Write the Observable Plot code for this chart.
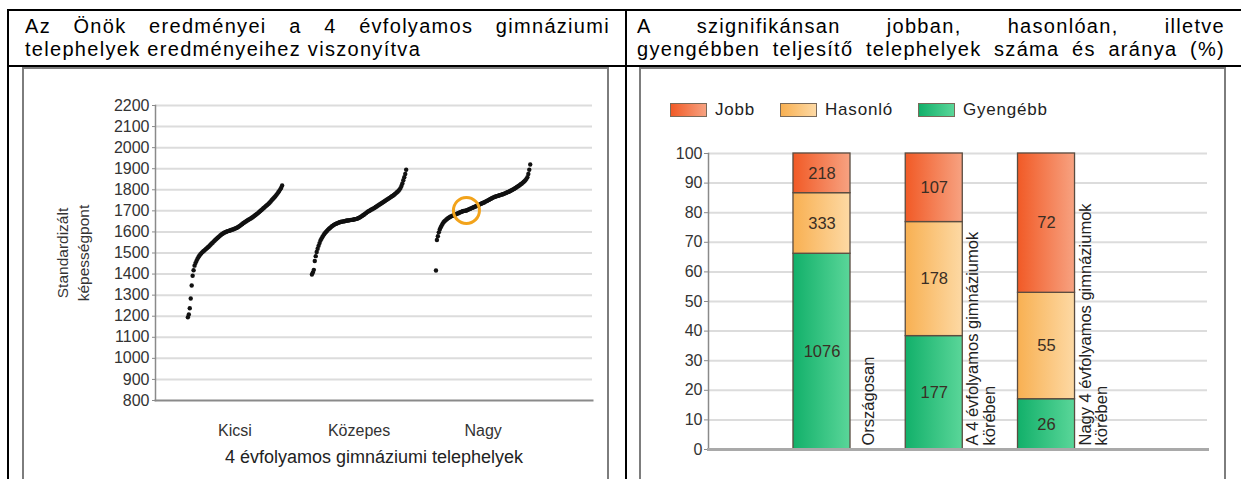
<!DOCTYPE html>
<html>
<head>
<meta charset="utf-8">
<script src="https://cdn.jsdelivr.net/npm/d3@7"></script>
<script src="https://cdn.jsdelivr.net/npm/@observablehq/plot@0.6"></script>
<style>
  html, body { margin: 0; padding: 0; background: #fff; }
  body { width: 1241px; height: 479px; position: relative; overflow: hidden; font-family: "Liberation Sans", Arial, sans-serif; }
  .ln { position: absolute; background: #000; }
  .hdr { position: absolute; font-size: 20px; line-height: 22.5px; color: #000; letter-spacing: 1.3px; }
  .hdr div { text-align: justify; }
  .just { text-align-last: justify; }
  .box { position: absolute; top: 67px; width: 587px; height: 430px; box-sizing: border-box; border: 2px solid #7d7d7d; background: #fff; overflow: hidden; }
  .box svg { display: block; }
  .legend { height: 60px; position: relative; }
  .legend .item { position: absolute; top: 33px; display: flex; align-items: center; font-size: 17px; letter-spacing: 0.8px; color: #222; height: 15px; }
  .legend .sw { width: 37px; height: 14px; border: 1px solid #7a6a5a; margin-right: 8px; box-sizing: border-box; }
</style>
</head>
<body>
<div class="ln" style="left:7px;top:9px;width:1234px;height:2px"></div>
<div class="ln" style="left:7px;top:9px;width:2px;height:470px"></div>
<div class="ln" style="left:7px;top:65px;width:1234px;height:2px"></div>
<div class="ln" style="left:625px;top:9px;width:2px;height:470px"></div>

<div class="hdr" id="hdrL" style="left:25px;top:15px;width:585px"></div>
<div class="hdr" id="hdrR" style="left:637px;top:15px;width:588px"></div>

<div class="box" id="boxL" style="left:22px"></div>
<div class="box" id="boxR" style="left:639px"><div class="legend" id="legend"></div></div>

<script>
// ---------- Header texts ----------
const headerLeft = ["Az Önök eredményei a 4 évfolyamos gimnáziumi", "telephelyek eredményeihez viszonyítva"];
const headerRight = ["A szignifikánsan jobban, hasonlóan, illetve", "gyengébben teljesítő telephelyek száma és aránya (%)"];

// ---------- Left chart data ----------
const groups = ["Kicsi", "Közepes", "Nagy"];
const xTitle = "4 évfolyamos gimnáziumi telephelyek";
const yTitle = "Standardizált\nképességpont";
const yTicksLeft = [800, 900, 1000, 1100, 1200, 1300, 1400, 1500, 1600, 1700, 1800, 1900, 2000, 2100, 2200];
const kicsiScores = [1195,1208,1238,1284,1346,1392,1418,1440,1452,1462,1472,1480,1487,1493,1498,1503,1507,1511,1515,1519,
  1523,1527,1531,1536,1540,1545,1549,1554,1558,1563,1567,1571,1575,1579,1583,1587,1590,1593,1596,1598,
  1600,1602,1604,1605,1607,1608,1610,1611,1613,1615,1617,1619,1621,1624,1627,1630,1634,1637,1641,1644,
  1647,1650,1653,1656,1659,1661,1664,1667,1670,1673,1677,1680,1684,1687,1691,1695,1699,1703,1707,1711,
  1715,1719,1723,1727,1731,1735,1740,1745,1750,1755,1760,1765,1770,1776,1782,1788,1795,1802,1810,1820];
const kozepesScores = [1398,1408,1420,1462,1485,1505,1520,1534,1547,1559,1568,1576,1583,1590,1596,1601,1606,1611,1615,1619,
  1623,1627,1630,1633,1636,1638,1640,1642,1644,1646,1647,1648,1649,1650,1651,1652,1653,1654,1654,1655,
  1656,1657,1657,1658,1659,1660,1661,1662,1664,1666,1668,1671,1674,1677,1680,1683,1687,1690,1694,1697,
  1699,1702,1705,1707,1710,1712,1715,1718,1721,1724,1727,1730,1733,1736,1739,1742,1745,1748,1751,1754,
  1757,1760,1763,1766,1769,1772,1775,1779,1783,1787,1791,1796,1801,1808,1818,1830,1845,1860,1875,1895];
const nagyScores = [1417,1562,1580,1598,1612,1622,1631,1639,1646,1651,1655,1659,1663,1666,1669,1672,1674,1676,1678,1680,
  1682,1684,1686,1688,1690,1692,1694,1696,1698,1699,1700,1701,1702,1704,1706,1708,1710,1712,1714,1716,
  1718,1720,1722,1724,1726,1728,1731,1733,1735,1737,1739,1741,1744,1746,1748,1751,1753,1756,1758,1761,
  1763,1765,1767,1768,1770,1771,1773,1774,1776,1777,1779,1780,1782,1784,1786,1788,1790,1792,1794,1797,
  1799,1802,1804,1807,1810,1813,1816,1819,1822,1826,1829,1833,1837,1841,1846,1852,1860,1875,1895,1920];
const highlightGroup = "Nagy";
const highlightRank = 32;

// ---------- Right chart data ----------
const sites = ["Országosan", "A 4 évfolyamos gimnáziumok\nkörében", "Nagy 4 évfolyamos gimnáziumok\nkörében"];
const seriesNames = ["Gyengébb", "Hasonló", "Jobb"];
const gyengebbCounts = [1076, 177, 26];
const hasonloCounts = [333, 178, 55];
const jobbCounts = [218, 107, 72];
const yTicksRight = [0, 10, 20, 30, 40, 50, 60, 70, 80, 90, 100];
const legendOrder = ["Jobb", "Hasonló", "Gyengébb"];

// colours (left, right of the gradient)
const grad = {
  "Jobb": ["#f15a26", "#f7a281"],
  "Hasonló": ["#f8b052", "#fdd9a4"],
  "Gyengébb": ["#12b06a", "#5ad699"]
};
const gradId = {"Jobb": "gJobb", "Hasonló": "gHason", "Gyengébb": "gGyeng"};

// header
for (const [id, lines, lastJust] of [["hdrL", headerLeft, false], ["hdrR", headerRight, true]]) {
  const el = document.getElementById(id);
  lines.forEach((t, i) => {
    const d = document.createElement("div");
    d.textContent = t;
    if (i === 0 || lastJust) d.className = "just";
    el.appendChild(d);
  });
}

const FONT = "'Liberation Sans', Arial, sans-serif";
const plain = d => String(d);

// ---------- Left chart ----------
const spread = 0.76;
const points = [kicsiScores, kozepesScores, nagyScores].flatMap((arr, g) =>
  arr.map((v, i) => ({group: groups[g], pos: g + (i / (arr.length - 1) - 0.5) * spread, value: v, rank: i})));
const highlight = points.filter(d => d.group === highlightGroup && d.rank === highlightRank);

const left = Plot.plot({
  width: 583, height: 410,
  marginLeft: 131, marginRight: 15, marginTop: 36, marginBottom: 79,
  style: {fontFamily: FONT, fontSize: "16px", color: "#333", background: "transparent", overflow: "visible"},
  x: {domain: [-0.641, 2.882], axis: null},
  y: {domain: [yTicksLeft[0], yTicksLeft[yTicksLeft.length - 1]], axis: null},
  marks: [
    Plot.gridY(yTicksLeft.slice(1), {stroke: "#dcdcdc", strokeOpacity: 1, strokeWidth: 2}),
    Plot.frame({anchor: "bottom", stroke: "#8a8a8a", strokeWidth: 2}),
    Plot.frame({anchor: "left", stroke: "#8a8a8a", strokeWidth: 1.5}),
    Plot.axisY(yTicksLeft, {tickSize: 3, tickPadding: 3, stroke: "#8a8a8a", fill: "#333", fontSize: 16, letterSpacing: 0.4, tickFormat: plain, label: null}),
    Plot.dot(points, {x: "pos", y: "value", r: 2.2, fill: "#111", stroke: null}),
    Plot.dot(highlight, {x: "pos", y: "value", r: 13, fill: "none", stroke: "#f2a31b", strokeWidth: 3}),
    Plot.text(groups, {x: (d, i) => i, frameAnchor: "bottom", lineAnchor: "middle", dy: 30, text: d => d, fontSize: 16, letterSpacing: 0.3, fill: "#333"}),
    Plot.text([xTitle], {frameAnchor: "bottom", lineAnchor: "middle", dy: 57, text: d => d, fontSize: 18, letterSpacing: 2.2, fill: "#222"}),
    Plot.text([yTitle], {frameAnchor: "left", textAnchor: "middle", lineAnchor: "middle", rotate: -90, dx: -84, text: d => d, fontSize: 15.5, lineHeight: 1.35, fill: "#333"})
  ]
});
document.getElementById("boxL").appendChild(left);

// ---------- Right chart ----------
const countsBySeries = {"Gyengébb": gyengebbCounts, "Hasonló": hasonloCounts, "Jobb": jobbCounts};
const rows = [];
sites.forEach((site, i) => {
  const total = seriesNames.reduce((s, k) => s + countsBySeries[k][i], 0);
  let acc = 0;
  seriesNames.forEach(k => {
    const pct = countsBySeries[k][i] / total * 100;
    rows.push({site, idx: i + 1, series: k, count: countsBySeries[k][i], y1: acc, y2: acc + pct});
    acc += pct;
  });
});
const halfBar = 0.254;

const NS = "http://www.w3.org/2000/svg";
function gradientDefs() {
  const defs = document.createElementNS(NS, "defs");
  for (const k of seriesNames) {
    const lg = document.createElementNS(NS, "linearGradient");
    lg.setAttribute("id", gradId[k]);
    lg.setAttribute("x1", "0"); lg.setAttribute("x2", "1"); lg.setAttribute("y1", "0"); lg.setAttribute("y2", "0");
    grad[k].forEach((c, j) => {
      const st = document.createElementNS(NS, "stop");
      st.setAttribute("offset", j === 0 ? "0" : "1");
      st.setAttribute("stop-color", c);
      lg.appendChild(st);
    });
    defs.appendChild(lg);
  }
  return defs;
}

const right = Plot.plot({
  width: 583, height: 350,
  marginLeft: 67, marginRight: 17, marginTop: 24, marginBottom: 30,
  style: {fontFamily: FONT, fontSize: "16px", color: "#333", background: "transparent", overflow: "visible"},
  x: {domain: [-0.011, 4.434], axis: null},
  y: {domain: [yTicksRight[0], yTicksRight[yTicksRight.length - 1]], axis: null},
  marks: [
    gradientDefs,
    Plot.gridY(yTicksRight.slice(1), {stroke: "#dcdcdc", strokeOpacity: 1, strokeWidth: 2}),
    Plot.frame({anchor: "left", stroke: "#8a8a8a", strokeWidth: 1.5}),
    Plot.axisY(yTicksRight, {tickSize: 4, tickPadding: 2, stroke: "#8a8a8a", fill: "#333", fontSize: 16, letterSpacing: 1, tickFormat: plain, label: null}),
    Plot.rect(rows, {x1: d => d.idx - halfBar, x2: d => d.idx + halfBar, y1: "y1", y2: "y2",
      fill: d => `url(#${gradId[d.series]})`, stroke: "#5a4c40", strokeWidth: 1.3}),
    Plot.frame({anchor: "bottom", stroke: "#a9a9a9", strokeWidth: 3}),
    Plot.text(rows, {x: "idx", y: d => (d.y1 + d.y2) / 2, text: d => String(d.count), fontSize: 16.5, letterSpacing: 0.8, fill: "#3a2e24"}),
    Plot.text(sites, {x: (d, i) => i + 1, y: () => yTicksRight[0], text: d => d, rotate: -90, textAnchor: "start",
      dx: 47, dy: -4, fontSize: 16.5, lineHeight: 1, fill: "#222"})
  ]
});
document.getElementById("boxR").appendChild(right);

// legend
const lg = document.getElementById("legend");
const legendLeft = {"Jobb": 29, "Hasonló": 139, "Gyengébb": 277};
for (const k of legendOrder) {
  const it = document.createElement("div");
  it.className = "item";
  it.style.left = legendLeft[k] + "px";
  const sw = document.createElement("div");
  sw.className = "sw";
  sw.style.background = `linear-gradient(to right, ${grad[k][0]}, ${grad[k][1]})`;
  const tx = document.createElement("span");
  tx.textContent = k;
  it.appendChild(sw); it.appendChild(tx);
  lg.appendChild(it);
}
</script>
</body>
</html>
